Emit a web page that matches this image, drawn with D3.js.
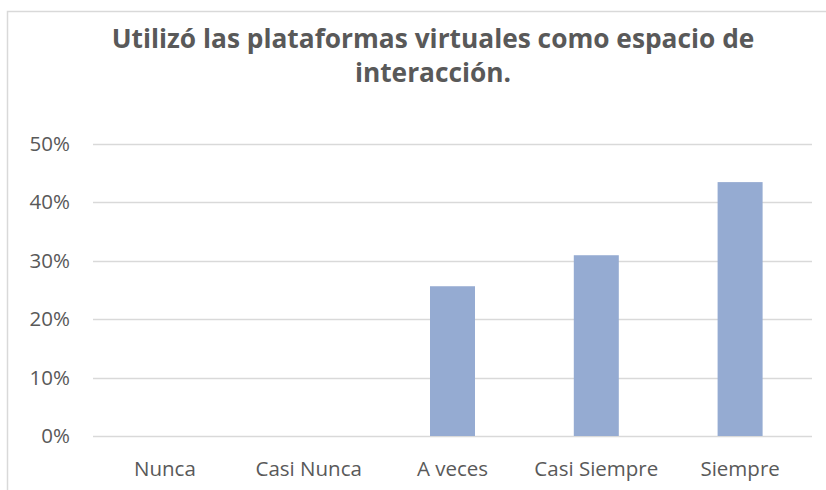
<!DOCTYPE html>
<html><head><meta charset="utf-8">
<script src="https://cdn.jsdelivr.net/npm/d3@7"></script>
<style>body{margin:0;background:#fff}svg{display:block}</style>
</head><body>
<script>
const categories = ["Nunca", "Casi Nunca", "A veces", "Casi Siempre", "Siempre"];
const values = [0, 0, 0.256, 0.309, 0.434];
const tickValues = [0, 0.1, 0.2, 0.3, 0.4, 0.5];
const titleLines = ["Utilizó las plataformas virtuales como espacio de", "interacción."];

const W = 826, H = 490;
const svg = d3.select("body").append("svg").attr("width", W).attr("height", H);
svg.append("rect").attr("width", W).attr("height", H).attr("fill", "#fff");
// chart border (extends past right/bottom edge)
svg.append("rect").attr("x", 7.5).attr("y", 11.5).attr("width", 852).attr("height", 500)
  .attr("fill", "none").attr("stroke", "#d9d9d9").attr("stroke-width", 1.5);

const x = d3.scaleBand().domain(categories).range([93, 812]).paddingInner(0.687).paddingOuter(0.3435);
const y = d3.scaleLinear().domain([0, 0.5]).range([436, 143.5]);

// gridlines
svg.append("g").selectAll("line").data(tickValues).join("line")
  .attr("x1", 93).attr("x2", 812)
  .attr("y1", d => Math.round(y(d)) + 0.5).attr("y2", d => Math.round(y(d)) + 0.5)
  .attr("stroke", "#d9d9d9").attr("stroke-width", 1.5);

// y axis labels
const yAxis = d3.axisLeft(y).tickValues(tickValues).tickFormat(d3.format(".0%")).tickSize(0).tickPadding(0);
const gy = svg.append("g").attr("transform", "translate(70,0)").call(yAxis);
gy.select(".domain").remove();
gy.selectAll("text").attr("fill", "#595959").style("font-family", "'Open Sans', sans-serif").style("font-size", "20.5px");

// bars
svg.append("g").selectAll("rect").data(categories.map((c, i) => ({c, v: values[i]})).filter(d => d.v > 0)).join("rect")
  .attr("x", d => x(d.c)).attr("width", x.bandwidth())
  .attr("y", d => y(d.v)).attr("height", d => y(0) - y(d.v))
  .attr("fill", "#95abd2");

// x axis labels
const xAxis = d3.axisBottom(x).tickSize(0).tickPadding(0);
const gx = svg.append("g").attr("transform", "translate(0,461)").call(xAxis);
gx.select(".domain").remove();
gx.selectAll("text").attr("fill", "#595959").style("font-family", "'Open Sans', sans-serif").style("font-size", "20.5px")
  .attr("dy", "0.71em");

// title
svg.append("g").selectAll("text").data(titleLines).join("text")
  .attr("x", 433).attr("y", (d, i) => 47.5 + i * 34.3)
  .attr("text-anchor", "middle").attr("fill", "#595959")
  .style("font-family", "'Open Sans', sans-serif").style("font-weight", "bold").style("font-size", "26.3px")
  .text(d => d);
</script>
</body></html>
